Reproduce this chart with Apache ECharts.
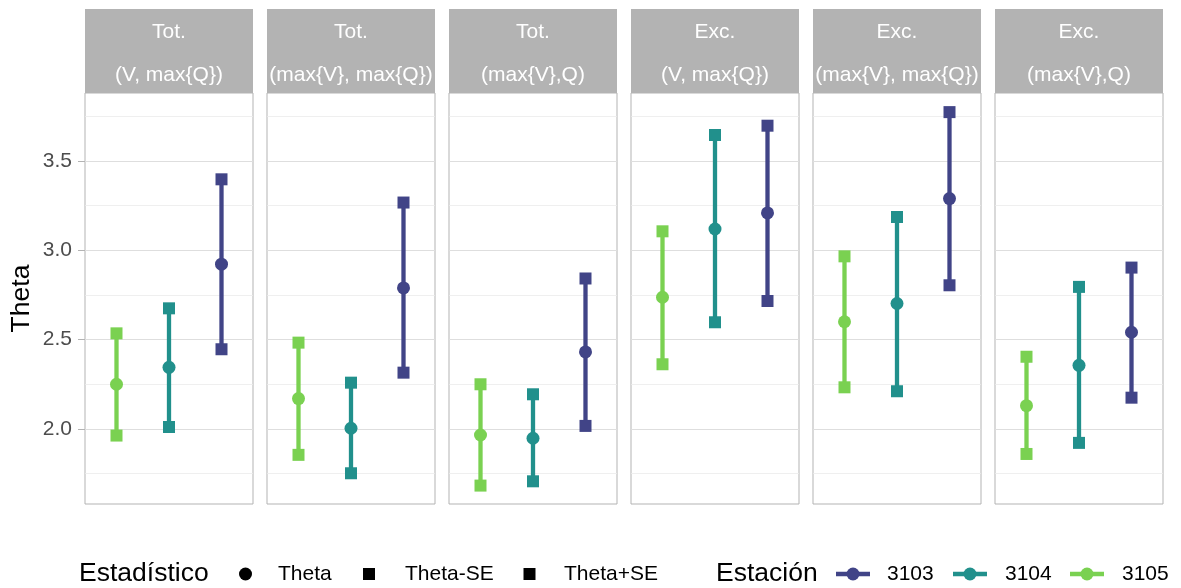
<!DOCTYPE html>
<html>
<head>
<meta charset="utf-8">
<title>Theta por estación</title>
<script src="https://cdn.jsdelivr.net/npm/echarts@6/dist/echarts.min.js"></script>
<style>
  html, body { margin: 0; padding: 0; background: #ffffff; }
  #chart { width: 1181px; height: 588px; }
</style>
</head>
<body>
<div id="chart"></div>
<script>
// Facet labels (two lines per strip)
const panelGroup = ['Tot.', 'Tot.', 'Tot.', 'Exc.', 'Exc.', 'Exc.'];
const panelPair = ['(V, max{Q})', '(max{V}, max{Q})', '(max{V},Q)', '(V, max{Q})', '(max{V}, max{Q})', '(max{V},Q)'];

// Stations in the order they sit along each panel's x axis
const stations = ['3105', '3104', '3103'];
const legendStations = ['3103', '3104', '3105'];
const stationColors = { '3103': '#414487', '3104': '#21908C', '3105': '#7AD151' };

// Theta, Theta-SE and Theta+SE per station, one value per panel
const theta3105 = [2.250, 2.170, 1.966, 2.737, 2.600, 2.130];
const lo3105    = [1.963, 1.855, 1.683, 2.362, 2.233, 1.860];
const hi3105    = [2.535, 2.483, 2.250, 3.106, 2.966, 2.404];

const theta3104 = [2.345, 2.004, 1.948, 3.119, 2.702, 2.356];
const lo3104    = [2.011, 1.752, 1.707, 2.597, 2.211, 1.922];
const hi3104    = [2.675, 2.259, 2.194, 3.645, 3.186, 2.795];

const theta3103 = [2.922, 2.789, 2.431, 3.209, 3.289, 2.541];
const lo3103    = [2.446, 2.315, 2.017, 2.716, 2.804, 2.175];
const hi3103    = [3.397, 3.267, 2.842, 3.697, 3.773, 2.903];

const thetaByStation = { '3105': theta3105, '3104': theta3104, '3103': theta3103 };
const loByStation    = { '3105': lo3105,    '3104': lo3104,    '3103': lo3103 };
const hiByStation    = { '3105': hi3105,    '3104': hi3104,    '3103': hi3103 };

// Y axis breaks
const majorBreaks = [2.0, 2.5, 3.0, 3.5];
const minorBreaks = [1.75, 2.25, 2.75, 3.25, 3.75];
const yMin = 1.58, yMax = 3.88;

// Legend entries
const statLabels = ['Theta', 'Theta-SE', 'Theta+SE'];
const statSymbols = ['circle', 'rect', 'rect'];

// Layout
const FONT = "'Liberation Sans', Arial, sans-serif";
const panelLeft0 = 85, panelWidth = 168, panelStep = 182;
const panelTop = 93, panelHeight = 411;
const stripTop = 9, stripHeight = 84;

const grids = [], xAxes = [], yAxes = [], series = [], graphics = [];

panelGroup.forEach((g, p) => {
  const left = panelLeft0 + p * panelStep;
  grids.push({
    left: left, top: panelTop, width: panelWidth, height: panelHeight,
    show: true, backgroundColor: '#ffffff', borderColor: '#B3B3B3', borderWidth: 1
  });
  xAxes.push({
    type: 'value', gridIndex: p, min: 0.4, max: stations.length + 0.6,
    show: false, splitLine: { show: false }
  });
  const y = {
    type: 'value', gridIndex: p, min: yMin, max: yMax,
    splitLine: { show: false }, axisLine: { show: false }
  };
  if (p === 0) {
    y.axisLabel = {
      customValues: majorBreaks, formatter: v => v.toFixed(1),
      color: '#4D4D4D', fontSize: 21, fontFamily: FONT, margin: 13
    };
    y.axisTick = { show: true, customValues: majorBreaks, length: 7, lineStyle: { color: '#B3B3B3', width: 1 } };
  } else {
    y.axisLabel = { show: false };
    y.axisTick = { show: false };
  }
  yAxes.push(y);

  // strip
  graphics.push({
    type: 'rect', shape: { x: left, y: stripTop, width: panelWidth, height: stripHeight },
    style: { fill: '#B3B3B3' }, silent: true
  });
  graphics.push({
    type: 'text', x: left + panelWidth / 2, y: stripTop + stripHeight / 2 + 3,
    style: {
      text: g + '\n' + panelPair[p], fill: '#ffffff', font: '21px ' + FONT,
      align: 'center', verticalAlign: 'middle', lineHeight: 43
    }, silent: true
  });

  stations.forEach((s, i) => {
    const x = i + 1;
    const ser = {
      type: 'line', name: s, xAxisIndex: p, yAxisIndex: p,
      color: stationColors[s],
      lineStyle: { width: 4.3, color: stationColors[s] },
      itemStyle: { color: stationColors[s] },
      symbol: 'circle', showSymbol: true, showAllSymbol: true,
      animation: false, silent: true, z: 3,
      data: [
        { value: [x, loByStation[s][p]], symbol: 'rect', symbolSize: 12 },
        { value: [x, thetaByStation[s][p]], symbol: 'circle', symbolSize: 13 },
        { value: [x, hiByStation[s][p]], symbol: 'rect', symbolSize: 12 }
      ]
    };
    if (i === 0) {
      ser.markLine = {
        silent: true, symbol: 'none', z: 1, animation: false,
        label: { show: false }, emphasis: { disabled: true },
        data: majorBreaks.map(v => ({ yAxis: v, lineStyle: { color: '#DEDEDE', width: 1.1, type: 'solid' } }))
          .concat(minorBreaks.map(v => ({ yAxis: v, lineStyle: { color: '#EBEBEB', width: 0.8, type: 'solid' } })))
      };
    }
    series.push(ser);
  });
});

// Y axis title
graphics.push({
  type: 'text', x: 22, y: panelTop + panelHeight / 2, rotation: Math.PI / 2,
  style: { text: 'Theta', fill: '#000000', font: '26.5px ' + FONT, align: 'center', verticalAlign: 'middle' },
  silent: true
});

// Legend: Estadístico
const legY = 574;
graphics.push({
  type: 'text', x: 79, y: legY,
  style: { text: 'Estadístico', fill: '#000000', font: '26.5px ' + FONT, align: 'left', verticalAlign: 'middle' },
  silent: true
});
const statKeyX = [245.5, 369, 529.5];
const statTextX = [278, 405, 564];
statLabels.forEach((lab, k) => {
  if (statSymbols[k] === 'circle') {
    graphics.push({ type: 'circle', shape: { cx: statKeyX[k], cy: legY, r: 6.5 }, style: { fill: '#000000' }, silent: true });
  } else {
    graphics.push({ type: 'rect', shape: { x: statKeyX[k] - 6, y: legY - 6, width: 12, height: 12 }, style: { fill: '#000000' }, silent: true });
  }
  graphics.push({
    type: 'text', x: statTextX[k], y: legY,
    style: { text: lab, fill: '#000000', font: '21px ' + FONT, align: 'left', verticalAlign: 'middle' },
    silent: true
  });
});

// Legend: Estación
graphics.push({
  type: 'text', x: 716, y: legY,
  style: { text: 'Estación', fill: '#000000', font: '26.5px ' + FONT, align: 'left', verticalAlign: 'middle' },
  silent: true
});
const stKeyX = [836, 953, 1070];
const stTextX = [887, 1005, 1122];
legendStations.forEach((s, k) => {
  graphics.push({
    type: 'line', shape: { x1: stKeyX[k], y1: legY, x2: stKeyX[k] + 34, y2: legY },
    style: { stroke: stationColors[s], lineWidth: 4.3 }, silent: true
  });
  graphics.push({ type: 'circle', shape: { cx: stKeyX[k] + 17, cy: legY, r: 6.5 }, style: { fill: stationColors[s] }, silent: true });
  graphics.push({
    type: 'text', x: stTextX[k], y: legY,
    style: { text: s, fill: '#000000', font: '21px ' + FONT, align: 'left', verticalAlign: 'middle' },
    silent: true
  });
});

const chart = echarts.init(document.getElementById('chart'), null, { renderer: 'canvas' });
chart.setOption({
  animation: false,
  backgroundColor: '#ffffff',
  grid: grids,
  xAxis: xAxes,
  yAxis: yAxes,
  series: series,
  graphic: graphics
});
</script>
</body>
</html>
